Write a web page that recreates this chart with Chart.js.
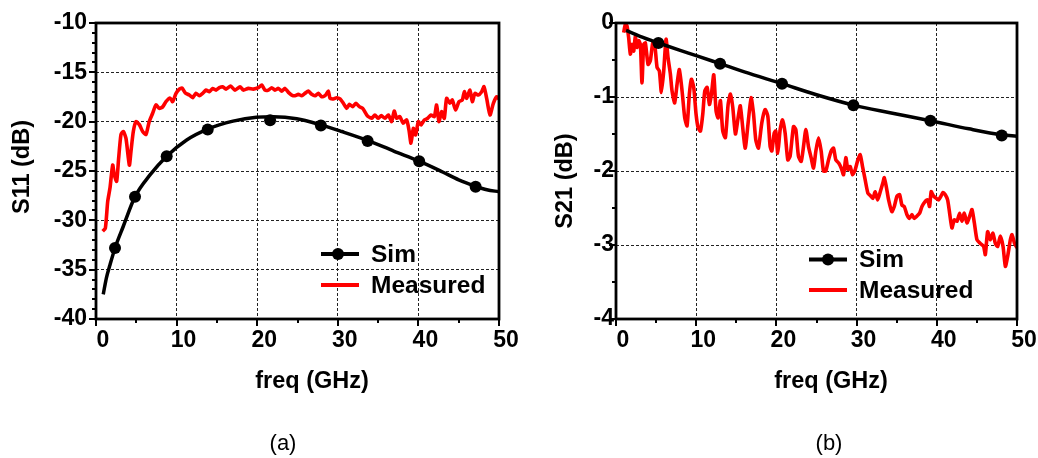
<!DOCTYPE html>
<html>
<head>
<meta charset="utf-8">
<script src="https://cdn.jsdelivr.net/npm/chart.js@4.4.1/dist/chart.umd.min.js"></script>
<style>
  html, body { margin: 0; padding: 0; background: #fff; }
  body { width: 1038px; height: 458px; position: relative; overflow: hidden; }
  canvas { position: absolute; top: 0; }
</style>
</head>
<body>
<canvas id="c1" width="520" height="458" style="left:0px"></canvas>
<canvas id="c2" width="518" height="458" style="left:520px"></canvas>
<script>
// ---------------- DATA ----------------
const seriesNames = ['Sim', 'Measured'];
const xTitle = 'freq (GHz)';
const s11Title = 'S11 (dB)';
const s21Title = 'S21 (dB)';
const captions = ['(a)', '(b)'];

// (a) S11 - simulated curve
const simS11Freq = [0.9, 1.3, 1.74, 2.36, 3.39, 4.84, 6.7, 8.77, 11.25, 13.86, 17.0, 19.9, 22.0, 24.9, 27.8, 30.5, 33.7, 37.0, 40.1, 43.0, 45.0, 47.1, 48.5, 50.0];
const simS11 = [-37.5, -35.8, -34.5, -32.8, -30.6, -27.6, -25.4, -23.5, -21.85, -20.75, -19.95, -19.55, -19.5, -19.7, -20.3, -21.0, -21.9, -23.0, -24.0, -25.1, -25.9, -26.55, -26.9, -27.1];
// (a) S11 - simulated markers
const simS11MarkFreq = [2.36, 4.84, 8.77, 13.86, 21.6, 27.9, 33.7, 40.1, 47.1];
const simS11Mark = [-32.8, -27.6, -23.5, -20.8, -19.85, -20.4, -21.95, -24.0, -26.6];
// (a) S11 - measured
const measS11Freq = [0.83, 1.16, 1.45, 1.74, 2.07, 2.27, 2.56, 2.81, 3.1, 3.39, 3.72, 4.14, 4.34, 4.63, 4.96, 5.38, 5.79, 6.2, 6.6, 7.03, 7.44, 7.86, 8.27, 8.68, 9.18, 9.51, 9.93, 10.34, 10.67, 11.08, 11.58, 11.99, 12.4, 12.82, 13.23, 13.65, 14.06, 14.47, 14.89, 15.3, 15.72, 16.13, 16.7, 17.25, 17.87, 18.28, 18.9, 19.52, 20.15, 20.56, 20.97, 21.39, 21.8, 22.21, 22.63, 23.04, 23.45, 23.87, 24.28, 24.69, 25.1, 25.52, 25.93, 26.35, 26.76, 27.18, 27.59, 28.0, 28.42, 28.83, 29.04, 29.45, 29.86, 30.28, 30.69, 31.1, 31.44, 31.85, 32.26, 32.68, 33.09, 33.59, 33.78, 34.2, 34.6, 35.0, 35.4, 35.85, 36.27, 36.68, 37.0, 37.3, 37.7, 38.1, 38.54, 38.83, 39.08, 39.37, 39.66, 39.99, 40.32, 40.73, 41.15, 41.56, 41.97, 42.26, 42.55, 42.88, 43.21, 43.5, 43.92, 44.2, 44.62, 45.03, 45.45, 45.7, 45.98, 46.4, 46.69, 47.02, 47.43, 47.85, 48.14, 48.47, 48.88, 49.3, 49.71, 50.0];
const measS11 = [-31.1, -30.8, -28.1, -26.7, -24.4, -25.4, -26.05, -23.7, -21.3, -21.0, -21.7, -24.4, -23.0, -21.0, -20.0, -20.3, -21.0, -21.3, -20.0, -19.15, -18.3, -18.65, -18.5, -17.97, -17.6, -17.97, -17.13, -16.7, -16.6, -17.1, -17.3, -17.57, -17.13, -17.37, -17.13, -16.8, -16.96, -16.63, -16.8, -16.56, -16.46, -16.7, -16.4, -16.8, -16.46, -16.8, -16.63, -16.7, -16.56, -16.29, -16.8, -16.8, -16.56, -16.8, -16.63, -16.9, -16.63, -17.03, -17.3, -17.37, -17.23, -17.37, -17.13, -16.9, -17.23, -17.37, -17.13, -17.47, -17.37, -16.9, -17.64, -17.7, -17.57, -17.7, -18.14, -18.65, -18.24, -18.48, -18.14, -18.48, -18.65, -19.32, -19.49, -19.66, -19.32, -19.66, -19.39, -19.66, -19.32, -19.99, -18.92, -19.66, -19.49, -20.16, -19.83, -20.84, -22.18, -20.67, -21.34, -19.99, -20.33, -19.83, -19.66, -19.32, -19.49, -18.31, -19.99, -18.98, -19.66, -17.64, -18.14, -17.8, -18.82, -17.97, -17.8, -16.96, -17.64, -16.8, -17.97, -17.13, -17.3, -16.96, -16.46, -17.64, -19.32, -18.14, -17.47, -17.7];

// (b) S21 - simulated curve
const simS21Freq = [1.25, 3.0, 5.3, 8.0, 10.0, 13.0, 16.0, 20.7, 25.0, 29.6, 34.0, 39.2, 44.0, 48.1, 50.0];
const simS21 = [-0.10, -0.18, -0.27, -0.37, -0.44, -0.55, -0.66, -0.82, -0.97, -1.11, -1.21, -1.32, -1.43, -1.51, -1.53];
// (b) S21 - simulated markers
const simS21MarkFreq = [5.28, 12.98, 20.7, 29.6, 39.2, 48.1];
const simS21Mark = [-0.27, -0.55, -0.82, -1.11, -1.32, -1.52];
// (b) S21 - measured
const measS21Freq = [0.96, 1.16, 1.37, 1.58, 1.79, 2.0, 2.21, 2.41, 2.62, 2.83, 3.04, 3.24, 3.45, 3.66, 4.0, 4.28, 4.58, 4.83, 5.12, 5.41, 5.66, 5.95, 6.24, 6.49, 6.78, 6.99, 7.32, 7.61, 7.9, 8.24, 8.57, 8.86, 9.15, 9.4, 9.69, 9.98, 10.23, 10.53, 10.82, 11.07, 11.36, 11.65, 11.9, 12.19, 12.48, 12.73, 13.02, 13.31, 13.64, 13.98, 14.27, 14.56, 14.89, 15.2, 15.5, 16.1, 16.51, 16.85, 17.14, 17.43, 17.76, 18.18, 18.6, 18.93, 19.22, 19.43, 19.72, 19.92, 20.17, 20.47, 20.76, 21.09, 21.42, 21.71, 22.13, 22.42, 22.75, 23.09, 23.38, 23.67, 24.0, 24.33, 24.63, 24.92, 25.25, 25.58, 25.87, 26.16, 26.5, 26.83, 27.12, 27.41, 27.75, 28.08, 28.37, 28.66, 28.91, 29.2, 29.49, 29.83, 30.16, 30.45, 30.74, 31.07, 31.41, 31.7, 32.03, 32.32, 32.62, 32.95, 33.28, 33.45, 33.7, 33.99, 34.4, 34.7, 35.03, 35.36, 35.65, 35.94, 36.28, 36.6, 36.9, 37.19, 37.52, 37.86, 38.15, 38.56, 38.85, 39.1, 39.3, 39.6, 39.94, 40.23, 40.52, 40.77, 41.06, 41.35, 41.6, 41.89, 42.18, 42.52, 42.85, 43.14, 43.43, 43.76, 44.1, 44.39, 44.68, 45.01, 45.43, 45.84, 46.05, 46.34, 46.67, 47.0, 47.3, 47.59, 47.92, 48.26, 48.55, 48.84, 49.17, 49.38, 49.67, 50.0];
const measS21 = [-0.13, -0.02, -0.04, -0.2, -0.42, -0.29, -0.38, -0.18, -0.33, -0.24, -0.29, -0.81, -0.29, -0.27, -0.56, -0.51, -0.27, -0.29, -0.6, -0.65, -0.94, -0.65, -0.22, -0.47, -0.69, -0.92, -1.08, -0.83, -0.63, -0.92, -1.28, -1.39, -0.96, -0.76, -0.87, -1.23, -1.41, -1.46, -1.23, -0.92, -0.87, -1.1, -0.96, -0.7, -1.19, -1.28, -1.05, -1.46, -1.55, -1.1, -0.96, -1.14, -1.5, -1.3, -1.12, -1.69, -1.31, -1.01, -1.22, -1.58, -1.69, -1.35, -1.17, -1.26, -1.67, -1.73, -1.49, -1.46, -1.76, -1.44, -1.31, -1.49, -1.85, -1.8, -1.4, -1.44, -1.8, -1.87, -1.67, -1.44, -1.67, -1.82, -1.96, -1.73, -1.55, -1.73, -2.0, -2.0, -1.85, -1.73, -1.69, -1.85, -1.89, -1.96, -2.05, -1.82, -1.98, -1.94, -2.05, -1.98, -1.85, -1.78, -1.94, -2.12, -2.3, -2.33, -2.37, -2.28, -2.39, -2.28, -2.16, -2.09, -2.21, -2.39, -2.55, -2.48, -2.34, -2.32, -2.46, -2.48, -2.59, -2.64, -2.59, -2.64, -2.61, -2.57, -2.48, -2.41, -2.39, -2.48, -2.28, -2.34, -2.37, -2.39, -2.34, -2.29, -2.32, -2.39, -2.57, -2.77, -2.66, -2.68, -2.57, -2.68, -2.57, -2.7, -2.61, -2.52, -2.7, -2.93, -2.98, -3.02, -3.13, -2.82, -2.93, -2.84, -2.98, -3.02, -2.88, -3.02, -3.29, -3.15, -2.93, -2.86, -2.97, -3.04];

// ---------------- RENDERING ----------------
const FAMILY = 'Arial, "Liberation Sans", Helvetica, sans-serif';
const pts = (xs, ys) => xs.map((x, i) => ({ x: x, y: ys[i] }));

const decorPlugin = {
  id: 'decor',
  afterDraw(chart, args, o) {
    const ctx = chart.ctx, a = chart.chartArea;
    const xs = chart.scales.x, ys = chart.scales.y;
    ctx.save();
    ctx.strokeStyle = '#000';
    ctx.lineWidth = 2;
    ctx.setLineDash([]);
    // x tick marks (major + minor), outward
    let n = Math.round((xs.max - xs.min) / o.xMinor);
    for (let i = 0; i <= n; i++) {
      const v = xs.min + i * o.xMinor;
      const major = Math.abs(v / o.xMajor - Math.round(v / o.xMajor)) < 1e-6;
      const px = Math.round(xs.getPixelForValue(v));
      ctx.beginPath(); ctx.moveTo(px, a.bottom); ctx.lineTo(px, a.bottom + (major ? 7 : 4)); ctx.stroke();
    }
    n = Math.round((ys.max - ys.min) / o.yMinor);
    for (let i = 0; i <= n; i++) {
      const v = ys.min + i * o.yMinor;
      const major = Math.abs(v / o.yMajor - Math.round(v / o.yMajor)) < 1e-6;
      const py = Math.round(ys.getPixelForValue(v));
      ctx.beginPath(); ctx.moveTo(a.left, py); ctx.lineTo(a.left - (major ? 7 : 4), py); ctx.stroke();
    }
    // frame
    ctx.lineWidth = 2.8;
    ctx.strokeRect(a.left, a.top, a.right - a.left, a.bottom - a.top);

    // axis titles
    ctx.fillStyle = '#000';
    ctx.font = 'bold 23.5px ' + FAMILY;
    ctx.textAlign = 'center';
    ctx.textBaseline = 'middle';
    ctx.fillText(o.xTitle, o.xTitlePos[0], o.xTitlePos[1]);
    ctx.save();
    ctx.translate(o.yTitlePos[0], o.yTitlePos[1]);
    ctx.rotate(-Math.PI / 2);
    ctx.fillText(o.yTitle, 0, 0);
    ctx.restore();
    // caption
    ctx.font = '22px ' + FAMILY;
    ctx.fillText(o.caption, o.captionPos[0], o.captionPos[1]);

    // legend
    const L = o.legend;
    ctx.font = 'bold 24.5px ' + FAMILY;
    ctx.textAlign = 'left';
    L.items.forEach((it, k) => {
      const ds = chart.data.datasets[it.line];
      const y = L.y0 + k * L.dy;
      ctx.strokeStyle = ds.borderColor;
      ctx.lineWidth = 4;
      ctx.lineCap = 'butt';
      ctx.beginPath(); ctx.moveTo(L.x1, y); ctx.lineTo(L.x2, y); ctx.stroke();
      if (it.marker !== undefined) {
        const md = chart.data.datasets[it.marker];
        ctx.fillStyle = md.pointBackgroundColor;
        ctx.beginPath(); ctx.arc(L.mx, y, md.pointRadius, 0, Math.PI * 2); ctx.fill();
      }
      ctx.fillStyle = '#000';
      ctx.fillText(ds.label, L.tx, y + 1);
    });
    ctx.restore();
  }
};

function makeChart(id, cfg) {
  const tickFont = { family: FAMILY, size: 23, weight: 'bold' };
  return new Chart(document.getElementById(id), {
    type: 'scatter',
    data: {
      datasets: [
        { label: seriesNames[0], data: pts(cfg.markX, cfg.markY), showLine: false,
          pointRadius: 6, pointBackgroundColor: '#000', pointBorderColor: '#000', pointBorderWidth: 0, order: 0, clip: false },
        { label: seriesNames[0], data: pts(cfg.simX, cfg.simY), showLine: true, borderColor: '#000', borderWidth: 3.5,
          pointRadius: 0, tension: 0.4, cubicInterpolationMode: 'monotone', order: 1 },
        { label: seriesNames[1], data: pts(cfg.measX, cfg.measY), showLine: true, borderColor: '#ff0000', borderWidth: 3.6,
          pointRadius: 0, tension: 0.2, borderJoinStyle: 'round', order: 2 }
      ]
    },
    options: {
      responsive: false,
      animation: false,
      devicePixelRatio: 1,
      layout: { padding: { left: 0, right: cfg.padRight, top: 23, bottom: 0 } },
      plugins: {
        legend: { display: false },
        tooltip: { enabled: false },
        decor: {
          xMinor: 5, xMajor: 10, yMinor: cfg.yMinor, yMajor: cfg.yStep,
          xTitle: xTitle, yTitle: cfg.yTitle, caption: cfg.caption,
          xTitlePos: cfg.xTitlePos, yTitlePos: cfg.yTitlePos, captionPos: cfg.captionPos,
          legend: cfg.legend
        }
      },
      scales: {
        x: {
          type: 'linear', min: 0, max: 50,
          afterFit: s => { s.height = 139; },
          ticks: { stepSize: 10, font: tickFont, color: '#000', padding: 8, labelOffset: 7, maxRotation: 0 },
          grid: { color: '#222', lineWidth: 1, drawTicks: false },
          border: { display: false, dash: [3, 2] }
        },
        y: {
          type: 'linear', min: cfg.yMin, max: cfg.yMax,
          afterFit: s => { s.width = 96; },
          ticks: { stepSize: cfg.yStep, font: tickFont, color: '#000', padding: cfg.yPad },
          grid: { color: '#222', lineWidth: 1, drawTicks: false },
          border: { display: false, dash: [3, 2] }
        }
      }
    },
    plugins: [decorPlugin]
  });
}

makeChart('c1', {
  markX: simS11MarkFreq, markY: simS11Mark, simX: simS11Freq, simY: simS11, measX: measS11Freq, measY: measS11,
  yMin: -40, yMax: -10, yStep: 5, yMinor: 1, yPad: 9, padRight: 21,
  yTitle: s11Title, caption: captions[0],
  xTitlePos: [312, 382], yTitlePos: [22.5, 167], captionPos: [283, 444],
  legend: { x1: 321, x2: 359, mx: 338, tx: 371, y0: 254, dy: 31, items: [{ line: 1, marker: 0 }, { line: 2 }] }
});

makeChart('c2', {
  markX: simS21MarkFreq, markY: simS21Mark, simX: simS21Freq, simY: simS21, measX: measS21Freq, measY: measS21,
  yMin: -4, yMax: 0, yStep: 1, yMinor: 0.5, yPad: 2, padRight: 21,
  yTitle: s21Title, caption: captions[1],
  xTitlePos: [311, 382], yTitlePos: [46, 181], captionPos: [309, 444],
  legend: { x1: 289, x2: 327, mx: 308, tx: 339, y0: 259.5, dy: 30.5, items: [{ line: 1, marker: 0 }, { line: 2 }] }
});
</script>
</body>
</html>
